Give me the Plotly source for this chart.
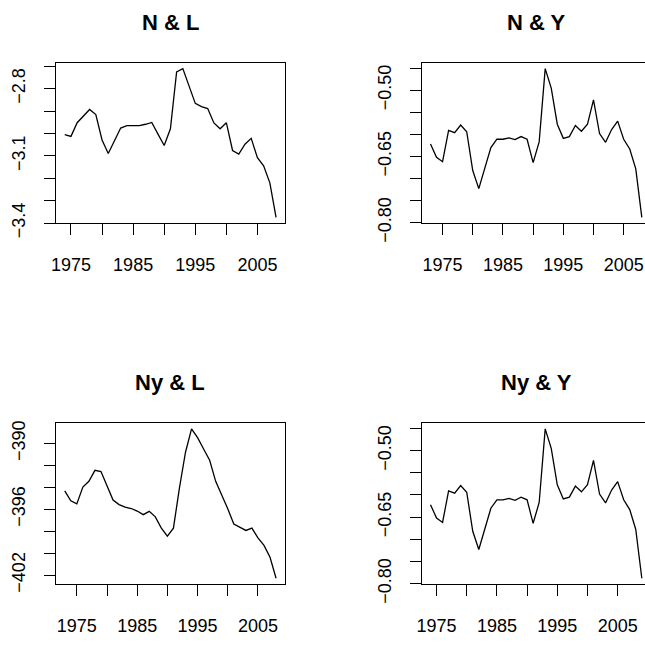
import plotly.graph_objects as go

# ---- data ----
years_NL = list(range(1974, 2009))
vals_NL = [-3.005, -3.013, -2.952, -2.923, -2.893, -2.916, -3.029, -3.089, -3.031, -2.976,
           -2.965, -2.965, -2.965, -2.959, -2.951, -3.003, -3.054, -2.979, -2.726, -2.711,
           -2.790, -2.866, -2.880, -2.889, -2.953, -2.979, -2.952, -3.076, -3.092, -3.048,
           -3.022, -3.108, -3.144, -3.220, -3.374]

years_NY = list(range(1973, 2009))
vals_NY = [-0.622, -0.652, -0.662, -0.591, -0.596, -0.579, -0.594, -0.682, -0.723, -0.678,
           -0.630, -0.611, -0.611, -0.608, -0.612, -0.605, -0.611, -0.664, -0.617, -0.451,
           -0.495, -0.577, -0.609, -0.605, -0.580, -0.593, -0.577, -0.522, -0.598, -0.618,
           -0.589, -0.570, -0.611, -0.633, -0.678, -0.788]

years_NyL = list(range(1973, 2009))
vals_NyL = [-394.33, -395.22, -395.51, -393.98, -393.45, -392.45, -392.56, -393.89, -395.16,
            -395.57, -395.81, -395.93, -396.16, -396.49, -396.19, -396.69, -397.72, -398.46,
            -397.72, -394.04, -390.80, -388.67, -389.47, -390.50, -391.53, -393.45, -394.63,
            -395.95, -397.34, -397.66, -397.93, -397.72, -398.61, -399.29, -400.38, -402.29]

years_NyY = list(range(1974, 2010))
vals_NyY = [-0.622, -0.652, -0.662, -0.591, -0.596, -0.579, -0.594, -0.682, -0.723, -0.678,
            -0.630, -0.611, -0.611, -0.608, -0.612, -0.605, -0.611, -0.664, -0.617, -0.451,
            -0.495, -0.577, -0.609, -0.605, -0.580, -0.593, -0.577, -0.522, -0.598, -0.618,
            -0.589, -0.570, -0.611, -0.633, -0.678, -0.788]

titles = ["N & L", "N & Y", "Ny & L", "Ny & Y"]

x_tickvals = [1975, 1980, 1985, 1990, 1995, 2000, 2005]
x_ticktext = ["1975", "", "1985", "", "1995", "", "2005"]

yt_NL = [-2.7, -2.8, -2.9, -3.0, -3.1, -3.2, -3.3, -3.4]
yl_NL = ["", "\u22122.8", "", "", "\u22123.1", "", "", "\u22123.4"]
yt_NY = [-0.45, -0.50, -0.55, -0.60, -0.65, -0.70, -0.75, -0.80]
yl_NY = ["", "\u22120.50", "", "", "\u22120.65", "", "", "\u22120.80"]
yt_NyL = [-390, -392, -394, -396, -398, -400, -402]
yl_NyL = ["\u2212390", "", "", "\u2212396", "", "", "\u2212402"]

W, H = 645, 649
FONT = "Liberation Sans, Arial, Helvetica, sans-serif"

def pad_range(vals, frac=0.04):
    lo, hi = min(vals), max(vals)
    d = (hi - lo) * frac
    return [lo - d, hi + d]

fig = go.Figure()

panels = [
    # (years, vals, ytickvals, yticktext, left_px, top_px, bottom_px)
    (years_NL, vals_NL, yt_NL, yl_NL, 51.7, 62.7, 228.7),
    (years_NY, vals_NY, yt_NY, yl_NY, 420.3, 62.7, 228.7),
    (years_NyL, vals_NyL, yt_NyL, yl_NyL, 51.7, 435.0, 601.7),
    (years_NyY, vals_NyY, yt_NY, yl_NY, 420.3, 435.0, 601.7),
]
plot_w = 230.0

for i, (xs, ys, ytv, ytt, left, top, bottom) in enumerate(panels):
    n = i + 1
    xa = "x" if n == 1 else f"x{n}"
    ya = "y" if n == 1 else f"y{n}"
    fig.add_trace(go.Scatter(x=xs, y=ys, mode="lines", xaxis=xa, yaxis=ya,
                             line=dict(color="black", width=1.3), showlegend=False,
                             hoverinfo="skip"))
    xr = pad_range(xs)
    right = left + plot_w
    clipped = right > W
    if clipped:
        frac = (W - left) / plot_w
        xr = [xr[0], xr[0] + (xr[1] - xr[0]) * frac]
        right = W
    yr = pad_range(ys)
    xd = [left / W, right / W]
    yd = [(H - bottom) / H, (H - top) / H]
    axis_common = dict(showgrid=False, zeroline=False, showline=True, linecolor="black",
                       linewidth=1.3, ticks="outside", ticklen=11, tickwidth=1.3,
                       tickcolor="black", tickfont=dict(family=FONT, size=18, color="black"),
                       fixedrange=True)
    xkey = "xaxis" if n == 1 else f"xaxis{n}"
    ykey = "yaxis" if n == 1 else f"yaxis{n}"
    fig.update_layout({
        xkey: dict(axis_common, domain=xd, range=xr, anchor=ya, tickmode="array",
                   tickvals=x_tickvals, ticktext=x_ticktext, mirror=True,
                   ticklabelstandoff=14),
        ykey: dict(axis_common, domain=yd, range=yr, anchor=xa, tickmode="array",
                   tickvals=ytv, ticktext=ytt, mirror=(not clipped), tickangle=-90,
                   ticklabelstandoff=12),
    })
    # title
    full_right = left + plot_w
    cx = (left + full_right) / 2 / W
    ty = top - 42
    fig.add_annotation(text="<b>" + titles[i] + "</b>", x=cx, y=(H - ty) / H,
                       xref="paper", yref="paper", showarrow=False, xanchor="center",
                       yanchor="middle", font=dict(family=FONT, size=22, color="black"))

fig.update_layout(width=W, height=H, margin=dict(l=0, r=0, t=0, b=0, pad=0),
                  paper_bgcolor="white", plot_bgcolor="white", hovermode=False)

fig.write_html("out.html", config={"displayModeBar": False})
